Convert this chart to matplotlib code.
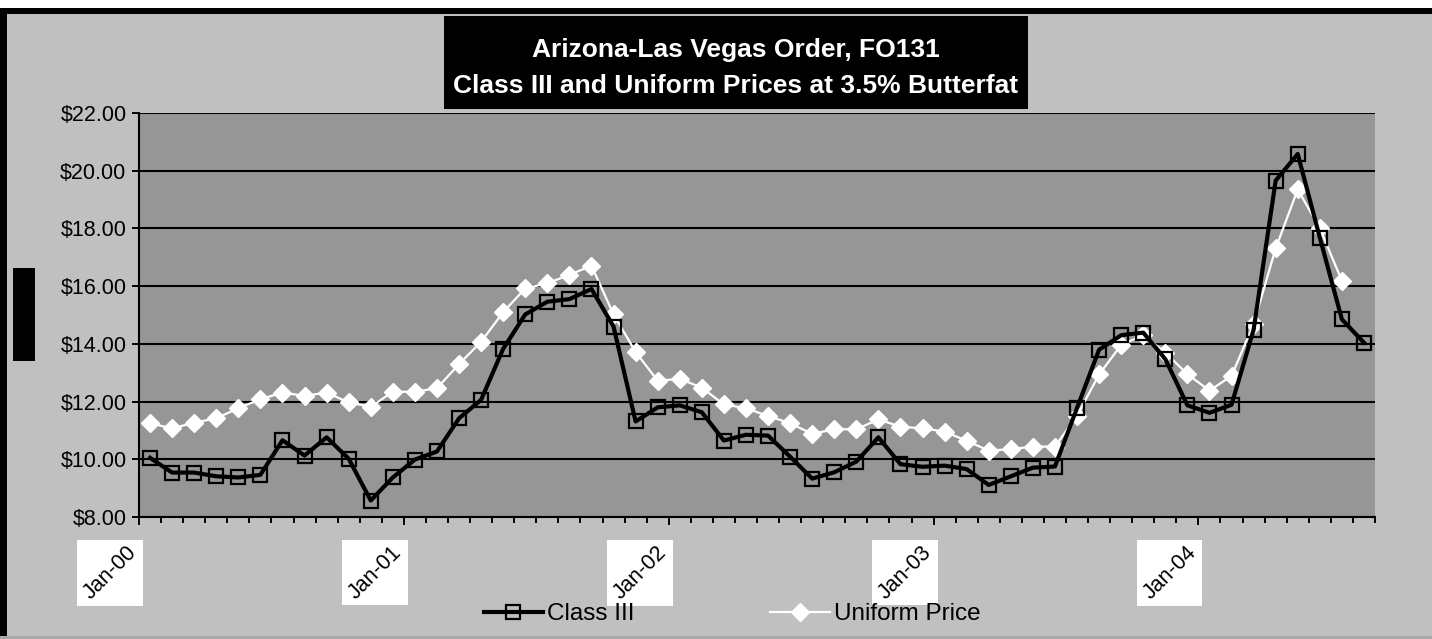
import numpy as np
import pandas as pd
import matplotlib
matplotlib.use("Agg")
import matplotlib.pyplot as plt
from matplotlib.patches import Rectangle
from matplotlib.ticker import FuncFormatter, FixedLocator
from matplotlib.transforms import ScaledTranslation

plt.rcParams['font.family'] = ['Liberation Sans', 'DejaVu Sans']

# monthly categories Jan-00 .. Aug-04
months = pd.date_range("2000-01-01", periods=56, freq="MS").strftime("%b-%y").tolist()

class_iii = [10.05, 9.54, 9.54, 9.41, 9.37, 9.46, 10.66, 10.13, 10.76, 10.02, 8.57, 9.37,
             9.99, 10.27, 11.42, 12.06, 13.83, 15.02, 15.46, 15.55, 15.90, 14.60, 11.31, 11.80,
             11.87, 11.63, 10.65, 10.85, 10.82, 10.09, 9.33, 9.55, 9.92, 10.76, 9.83, 9.74,
             9.78, 9.66, 9.11, 9.41, 9.71, 9.75, 11.78, 13.80, 14.30, 14.39, 13.47, 11.87,
             11.61, 11.89, 14.49, 19.66, 20.58, 17.68, 14.85, 14.04]

uniform = [11.25, 11.07, 11.27, 11.42, 11.77, 12.08, 12.31, 12.20, 12.31, 11.97, 11.82, 12.34,
           12.34, 12.46, 13.30, 14.07, 15.10, 15.92, 16.10, 16.39, 16.71, 15.02, 13.72, 12.72,
           12.79, 12.48, 11.90, 11.77, 11.50, 11.25, 10.88, 11.04, 11.04, 11.38, 11.13, 11.07,
           10.96, 10.64, 10.30, 10.35, 10.44, 10.44, 11.51, 12.94, 13.96, 14.30, 13.70, 12.95,
           12.38, 12.89, 14.69, 17.31, 19.35, 18.00, 16.19]

title_lines = ["Arizona-Las Vegas Order, FO131",
               "Class III and Uniform Prices at 3.5% Butterfat"]

W, H = 1432, 639
fig = plt.figure(figsize=(W / 100, H / 100), dpi=100, facecolor="#c0c0c0")

# frame decorations
fig.patches.append(Rectangle((0, 1 - 8 / H), 1, 8 / H, transform=fig.transFigure,
                             facecolor="white", edgecolor="none", zorder=-2))
fig.patches.append(Rectangle((0, 1 - 14 / H), 1, 6 / H, transform=fig.transFigure,
                             facecolor="black", edgecolor="none", zorder=-2))
fig.patches.append(Rectangle((0, 0), 7 / W, 1 - 8 / H, transform=fig.transFigure,
                             facecolor="black", edgecolor="none", zorder=-2))
fig.patches.append(Rectangle((0, 0), 1, 3 / H, transform=fig.transFigure,
                             facecolor="#a8a8a8", edgecolor="none", zorder=-2))
# y-axis title block (blank black box)
fig.patches.append(Rectangle((13 / W, 1 - 361 / H), 22 / W, 93 / H, transform=fig.transFigure,
                             facecolor="black", edgecolor="none", zorder=-2))

ax = fig.add_axes([139 / W, 1 - 517 / H, (1375 - 139) / W, (517 - 113) / H])
ax.set_facecolor("#969696")

x = np.arange(len(months))
ax.plot(x, class_iii, color="black", lw=3, marker="s", ms=10, mfc="none",
        mec="black", mew=1.6, label="Class III", zorder=4)
ax.plot(x[:len(uniform)], uniform, color="white", lw=1.6, marker="D", ms=9.5,
        mfc="white", mec="white", label="Uniform Price", zorder=3)

ax.set_xlim(-0.5, len(months) - 0.5)
ax.set_ylim(8, 22)
ax.set_yticks(np.arange(8, 23, 2))
ax.yaxis.set_major_formatter(FuncFormatter(lambda v, p: "${:.2f}".format(v)))
ax.grid(axis="y", color="black", lw=1.5)
ax.set_axisbelow(True)

jan_pos = [i - 0.5 for i in range(0, len(months), 12)]
ax.xaxis.set_major_locator(FixedLocator(jan_pos))
ax.xaxis.set_minor_locator(FixedLocator([i - 0.5 for i in range(len(months) + 1)]))
ax.set_xticklabels(months[::12], rotation=45, ha="right", fontsize=15.5)
ax.tick_params(axis="x", which="major", length=6, width=1.4, pad=12)
ax.tick_params(axis="x", which="minor", length=4.5, width=1.4)
ax.tick_params(axis="y", length=5, width=1.4, labelsize=15.5, pad=4)

for s in ["top", "right"]:
    ax.spines[s].set_visible(False)
for s in ["left", "bottom"]:
    ax.spines[s].set_linewidth(1.5)

off = ScaledTranslation(2 / 100, 0, fig.dpi_scale_trans)
for lab in ax.get_xticklabels():
    lab.set_transform(lab.get_transform() + off)

# title box
fig.patches.append(Rectangle((444 / W, 1 - 109 / H), (1028 - 444) / W, 93 / H,
                             transform=fig.transFigure, facecolor="black",
                             edgecolor="none", zorder=2))
fig.text(736 / W, 1 - 57 / H, title_lines[0], ha="center", va="baseline",
         color="white", fontsize=19, fontweight="bold", zorder=3)
fig.text(736 / W, 1 - 93 / H, title_lines[1], ha="center", va="baseline",
         color="white", fontsize=19, fontweight="bold", zorder=3)

fig.legend(loc="center", bbox_to_anchor=(732 / W, 1 - 614 / H), ncol=2,
           frameon=False, fontsize=17.5, numpoints=1, handlelength=2.45,
           handletextpad=0.15, columnspacing=5.6)

# white boxes behind the rotated month labels
fig.canvas.draw()
r = fig.canvas.get_renderer()
for lab in ax.get_xticklabels():
    bb = lab.get_window_extent(r)
    p = 2
    fig.patches.append(Rectangle(((bb.x0 - p) / W, (bb.y0 - p) / H),
                                 (bb.width + 2 * p) / W, (bb.height + 2 * p) / H,
                                 transform=fig.transFigure, facecolor="white",
                                 edgecolor="none", zorder=-1))

fig.savefig("out.png", dpi=100, facecolor=fig.get_facecolor())
